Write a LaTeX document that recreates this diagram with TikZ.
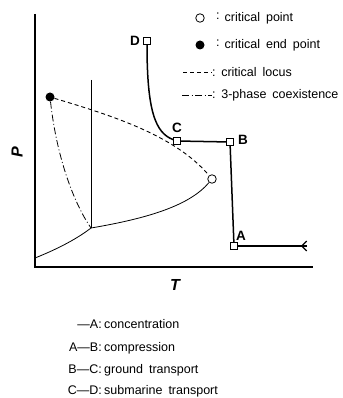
\documentclass[tikz,border=0pt]{standalone}
\usepackage{fontspec}
\setmainfont{Liberation Sans}
\usetikzlibrary{arrows.meta,decorations.markings}
\begin{document}
\begin{tikzpicture}[x=1pt,y=-1pt,
  txt/.style={font=\fontsize{12.5}{14}\selectfont, inner sep=0pt},
  lbl/.style={font=\fontsize{13.5}{15}\selectfont\bfseries, inner sep=0pt},
  axis/.style={line width=1.4pt},
  curve/.style={line width=0.8pt},
  route/.style={line width=1.5pt},
  sq/.style={draw, line width=0.8pt, fill=white, minimum size=6.5pt, inner sep=0pt, rectangle},
  opc/.style={draw, line width=0.8pt, fill=white, circle, minimum size=8.5pt, inner sep=0pt},
  fic/.style={fill=black, circle, minimum size=9pt, inner sep=0pt},
  dashd/.style={line width=0.9pt, dash pattern=on 4pt off 3pt},
  dashdot/.style={line width=0.8pt, dash pattern=on 7pt off 2.5pt on 1pt off 2.5pt}]
\useasboundingbox (0,0) rectangle (342,398);
% axes
\coordinate (ytop) at (35,14);
\coordinate (orig) at (35,267);
\coordinate (xend) at (313,267);
\draw[axis] (ytop) -- (orig) -- (xend);
\node[font=\fontsize{16}{17}\selectfont\itshape\bfseries, rotate=90] (P) at (17,152) {P};
\node[font=\fontsize{16}{17}\selectfont\itshape\bfseries] (T) at (175,285) {T};
% phase lines
\coordinate (tp) at (91,228);
\coordinate (vtop) at (91,80);
\coordinate (low) at (35,258);
\node[opc] (cp) at (212,179) {};
\node[fic] (cep) at (50,97) {};
\draw[curve] (vtop) -- (tp);
\draw[curve] (low) .. controls (60,248) and (78,238) .. (tp);
\draw[curve] (tp) .. controls (150,218) and (190,205) .. (cp);
\draw[dashdot] (cep) .. controls (57,160) and (75,205) .. (tp);
\draw[dashd] (cep) .. controls (110,115) and (175,135) .. (cp);
% route
\node[sq] (A) at (234,246) {};
\node[sq] (B) at (230,142) {};
\node[sq] (C) at (177,141) {};
\node[sq] (D) at (147,41) {};
\coordinate (src) at (307,246);
\draw[route, postaction={decorate}, decoration={markings, mark=at position 0.09 with {\arrow[line width=1.3pt]{Straight Barb[length=5pt,width=10pt]}}}] (src) -- (A);
\draw[route] (A) -- (B) -- (C);
\draw[route] (C) .. controls (155,133) and (147,110) .. (D);
\node[lbl] (Al) at (241,236) {A};
\node[lbl] (Bl) at (243,140) {B};
\node[lbl] (Cl) at (177,128) {C};
\node[lbl] (Dl) at (135,41) {D};
% top legend
\node[opc] (l1s) at (200,18) {};
\node[txt, anchor=west] (l1t) at (216,18) {\raisebox{2pt}{:}\hspace{5pt}critical\hspace{2.5pt} point};
\node[fic] (l2s) at (200,45) {};
\node[txt, anchor=west] (l2t) at (216,45) {\raisebox{2pt}{:}\hspace{5pt}critical\hspace{2.5pt} end\hspace{2.5pt} point};
\coordinate (l3a) at (183,72);
\coordinate (l3b) at (212,72);
\draw[dashd] (l3a) -- (l3b);
\node[txt, anchor=west] (l3t) at (212,72) {:\hspace{1pt} critical\hspace{2.5pt} locus};
\coordinate (l4a) at (182,95);
\coordinate (l4b) at (212,95);
\draw[dashdot] (l4a) -- (l4b);
\node[txt, anchor=west] (l4t) at (212,95) {:\hspace{1pt} 3-phase\hspace{2.5pt} coexistence};
% bottom legend
\node[txt, anchor=base east] (k1) at (102,328) {—A:};
\node[txt, anchor=base west] (k1t) at (104,328) {concentration};
\node[txt, anchor=base east] (k2) at (102,351) {A—B:};
\node[txt, anchor=base west] (k2t) at (104,351) {compression};
\node[txt, anchor=base east] (k3) at (102,373) {B—C:};
\node[txt, anchor=base west] (k3t) at (104,373) {ground\hspace{2.5pt} transport};
\node[txt, anchor=base east] (k4) at (102,394) {C—D:};
\node[txt, anchor=base west] (k4t) at (104,394) {submarine\hspace{2.5pt} transport};
\end{tikzpicture}
\end{document}
